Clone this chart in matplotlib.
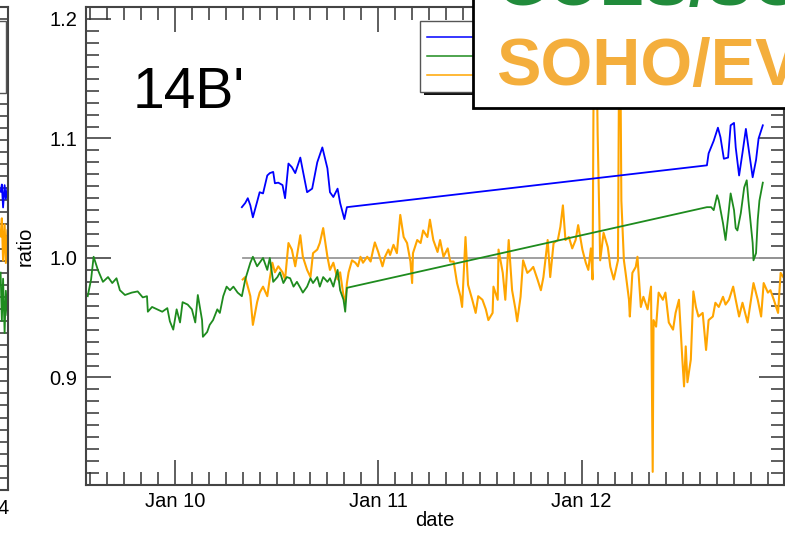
import numpy as np
import matplotlib.pyplot as plt
import matplotlib.dates as mdates
from matplotlib.patches import Rectangle
from matplotlib.lines import Line2D
from matplotlib.ticker import MultipleLocator, FormatStrFormatter

plt.rcParams['font.family'] = ['Liberation Sans', 'DejaVu Sans']

# --- data: hours since Jan 10 00:00 and flux ratios ---
goes_hours = [-10.3, -9.9, -9.6, -9.1, -8.5, -7.9, -7.4, -6.9, -6.5, -5.9,
              -5.1, -4.4, -3.8, -3.3, -3.2, -2.7, -2.1, -1.5, -0.9, -0.6,
              -0.2, 0.2, 0.6, 0.9, 1.5, 2.0, 2.4, 2.7, 3.2, 3.3,
              3.8, 4.1, 4.5, 5.0, 5.3, 5.7, 6.1, 6.5, 6.9, 7.4,
              7.9, 8.3, 8.9, 9.2, 9.7, 10.0, 10.4, 10.9, 11.2, 11.6,
              12.1, 12.4, 12.8, 13.2, 13.6, 14.0, 14.4, 14.8, 15.1, 15.6,
              16.0, 16.3, 16.8, 17.1, 17.5, 18.0, 18.3, 18.7, 19.2, 19.5,
              19.9, 20.1, 20.3,
              62.8, 63.3, 63.6, 64.0, 64.2, 64.7, 65.0, 65.3, 65.6, 66.0,
              66.2, 66.4, 66.8, 67.2, 67.5, 67.7, 68.2, 68.3, 68.6, 68.8,
              69.0, 69.4]
goes_ratio = [0.968, 0.982, 1.001, 0.990, 0.980, 0.984, 0.979, 0.983, 0.973, 0.969,
              0.971, 0.972, 0.967, 0.968, 0.955, 0.959, 0.957, 0.955, 0.958, 0.947,
              0.940, 0.957, 0.946, 0.963, 0.961, 0.957, 0.946, 0.969, 0.948, 0.934,
              0.938, 0.944, 0.948, 0.957, 0.954, 0.968, 0.976, 0.973, 0.976, 0.971,
              0.968, 0.982, 0.996, 1.001, 0.993, 0.996, 1.000, 0.990, 1.000, 0.980,
              0.984, 0.988, 0.979, 0.984, 0.983, 0.976, 0.980, 0.975, 0.971, 0.976,
              0.983, 0.979, 0.984, 0.976, 0.984, 0.980, 0.983, 0.976, 0.990, 0.973,
              0.965, 0.955, 0.975,
              1.0425, 1.0425, 1.040, 1.0525, 1.048, 1.029, 1.015, 1.034, 1.054, 1.040,
              1.025, 1.023, 1.0375, 1.059, 1.065, 1.048, 1.0125, 0.998, 1.004, 1.032,
              1.048, 1.063]

sdo_hours = [7.9, 8.3, 8.6, 8.9, 9.2, 9.7, 10.0, 10.4, 10.9, 11.2,
             11.6, 11.8, 12.2, 12.7, 13.0, 13.4, 13.8, 14.2, 14.8, 15.1,
             15.6, 16.2, 16.8, 17.4, 18.0, 18.3, 18.7, 19.2, 19.5, 20.0,
             20.3,
             62.8, 63.0, 63.6, 64.1, 64.4, 64.8, 65.3, 65.6, 66.0, 66.2,
             66.6, 67.0, 67.4, 67.7, 68.2, 68.6, 68.9, 69.4]
sdo_ratio = [1.0425, 1.046, 1.050, 1.044, 1.034, 1.047, 1.055, 1.054, 1.069, 1.071,
             1.072, 1.0625, 1.063, 1.061, 1.050, 1.079, 1.076, 1.071, 1.084, 1.073,
             1.055, 1.058, 1.080, 1.0925, 1.075, 1.055, 1.051, 1.058, 1.046, 1.0325,
             1.0425,
             1.0775, 1.0875, 1.098, 1.109, 1.101, 1.083, 1.084, 1.111, 1.113, 1.0925,
             1.069, 1.088, 1.108, 1.0925, 1.0675, 1.082, 1.100, 1.111]

soho_hours = [8.0, 8.3, 8.9, 9.2, 9.7, 10.0, 10.4, 10.9, 11.2, 11.5,
              11.8, 12.2, 12.7, 13.0, 13.4, 13.8, 14.2, 14.8, 15.1, 15.6,
              16.0, 16.3, 16.8, 17.1, 17.5, 18.0, 18.3, 18.7, 19.2, 19.5,
              19.9, 20.1, 20.3, 20.5, 20.9, 21.3, 21.6, 21.9, 22.2, 22.7,
              23.1, 23.4, 23.6, 24.0, 24.5, 24.8, 25.2, 25.4, 25.8, 26.2,
              26.6, 27.0, 27.4, 27.8, 28.0, 28.1, 28.6, 29.0, 29.3, 29.8,
              30.1, 30.5, 31.0, 31.3, 31.7, 32.2, 32.5, 32.9, 33.3, 33.7,
              33.9, 34.3, 34.6, 35.1, 35.5, 35.8, 36.3, 36.7, 37.0, 37.5,
              37.6, 38.1, 38.2, 38.7, 39.0, 39.4, 39.8, 40.2, 40.4, 40.8,
              41.1, 41.6, 42.0, 42.3, 42.8, 43.2, 43.5, 44.0, 44.3, 44.7,
              45.2, 45.5, 45.8, 46.1, 46.5, 46.9, 47.3, 47.6, 48.1, 48.5,
              48.8, 49.1, 49.3, 49.5, 49.8, 49.9, 50.2, 50.6, 51.1, 51.4,
              51.8, 52.3, 52.5, 52.6, 52.7, 53.0, 53.2, 53.6, 53.7, 54.0,
              54.4, 54.6, 55.0, 55.3, 55.8, 56.2, 56.4, 56.5, 56.8, 57.1,
              57.6, 57.9, 58.3, 58.8, 59.1, 59.5, 59.9, 60.1, 60.3, 60.5,
              60.9, 61.2, 61.5, 61.8, 62.3, 62.7, 63.0, 63.5, 63.8, 64.2,
              64.7, 65.0, 65.4, 65.9, 66.2, 66.6, 67.0, 67.6, 68.0, 68.3,
              68.8, 69.2, 69.5, 70.0, 70.3, 70.7, 71.2, 71.5, 72.0]
soho_ratio = [0.982, 0.984, 0.968, 0.944, 0.963, 0.971, 0.976, 0.968, 0.983, 0.996,
              0.988, 0.993, 0.988, 0.982, 1.0125, 1.007, 0.993, 1.019, 1.001, 0.990,
              0.984, 1.004, 1.007, 1.0125, 1.025, 1.001, 0.990, 0.996, 0.982, 0.988,
              0.968, 0.963, 0.979, 0.988, 0.998, 0.996, 0.993, 1.001, 0.996, 1.001,
              0.997, 1.007, 1.013, 1.005, 0.993, 1.001, 1.007, 1.0025, 1.011, 1.004,
              1.036, 1.0175, 1.0125, 0.997, 0.979, 1.004, 1.015, 1.0125, 1.023, 1.0175,
              1.032, 1.015, 1.005, 1.015, 1.001, 1.008, 0.997, 0.997, 0.979, 0.968,
              0.959, 1.0175, 0.9775, 0.965, 0.954, 0.968, 0.965, 0.957, 0.948, 0.954,
              0.976, 0.965, 1.007, 0.9875, 0.965, 1.015, 0.973, 0.957, 0.947, 0.9675,
              0.998, 0.9875, 0.990, 0.9925, 0.982, 0.973, 0.984, 1.015, 0.984, 1.0125,
              1.015, 1.026, 1.044, 1.015, 1.0175, 1.008, 1.015, 1.0275, 1.007, 0.996,
              0.990, 1.008, 0.982, 1.25, 1.16, 1.104, 0.998, 1.021, 1.009, 0.9925,
              0.982, 0.998, 1.25, 1.15, 1.048, 0.998, 0.9875, 0.965, 0.951, 0.9875,
              0.9925, 1.001, 0.959, 0.9675, 0.957, 0.976, 0.821, 0.948, 0.9425, 0.971,
              0.965, 0.971, 0.946, 0.940, 0.954, 0.965, 0.915, 0.8925, 0.926, 0.896,
              0.915, 0.972, 0.959, 0.951, 0.954, 0.923, 0.948, 0.951, 0.9625, 0.959,
              0.9675, 0.961, 0.965, 0.976, 0.965, 0.951, 0.9625, 0.946, 0.965, 0.979,
              0.965, 0.951, 0.979, 0.971, 0.973, 0.965, 0.954, 0.9875, 0.982]

# neighbouring panel (only its right edge is visible)
prev_x = [97.6, 98.0, 98.4, 98.9, 99.3, 99.8]
prev_blue = [1.057, 1.063, 1.044, 1.0625, 1.051, 1.060]
prev_orange = [1.020, 1.035, 1.000, 1.030, 0.998, 1.025]
prev_green = [0.990, 0.950, 0.985, 0.940, 0.975, 0.955]

C_BLUE = '#0000FF'
C_GREEN = '#1E8B1E'
C_ORANGE = '#FFA500'
C_AXIS = '#444444'

W, H = 785, 539
fig = plt.figure(figsize=(W / 100, H / 100), dpi=100, facecolor='white')


def fx(px):
    return px / W


def fy(py):
    return 1 - py / H


T0 = np.datetime64('2005-01-10T00:00')


def to_time(hours):
    mins = np.round(np.asarray(hours, dtype=float) * 60).astype(int)
    return T0 + mins.astype('timedelta64[m]')


def style_axes(a):
    for s in a.spines.values():
        s.set_color(C_AXIS)
        s.set_linewidth(1.5)
    a.tick_params(which='both', direction='in', top=True, right=True,
                  color='#333333', width=1.1)
    a.tick_params(which='major', length=18, labelsize=14.5, pad=6)
    a.tick_params(which='minor', length=9.4)


# --- left neighbour panel ---
axp = fig.add_axes([fx(-300), fy(490), fx(308), fy(7) - fy(490)])
axp.plot(prev_x, prev_orange, color=C_ORANGE, lw=1.5)
axp.plot(prev_x, prev_green, color=C_GREEN, lw=1.3)
axp.plot(prev_x, prev_blue, color=C_BLUE, lw=1.3)
axp.set_xlim(0, 100)
axp.set_ylim(0.81, 1.21)
axp.yaxis.set_major_locator(MultipleLocator(0.1))
axp.yaxis.set_minor_locator(MultipleLocator(0.01))
style_axes(axp)
axp.tick_params(labelleft=False, labelbottom=False)
fig.text(fx(9), fy(508), '4', ha='right', va='center', fontsize=14.5)
fig.patches.append(Rectangle((fx(-60), fy(93)), fx(66), fy(21) - fy(93),
                             transform=fig.transFigure, facecolor='white',
                             edgecolor='#555555', lw=1.0, zorder=2))

# --- main panel ---
t_end = 71.9
ax = fig.add_axes([fx(86), fy(485), fx(784) - fx(86), fy(7) - fy(485)])
soho_t = to_time(soho_hours)
ax.plot([soho_t[0], to_time(t_end)], [1.0, 1.0], color='#999999', lw=1.3)
ax.plot(soho_t, soho_ratio, color=C_ORANGE, lw=1.5)
ax.plot(to_time(goes_hours), goes_ratio, color=C_GREEN, lw=1.3)
ax.plot(to_time(sdo_hours), sdo_ratio, color=C_BLUE, lw=1.3)

ax.set_xlim(to_time(-10.5), to_time(t_end))
ax.set_ylim(0.81, 1.21)
ax.xaxis.set_major_locator(mdates.DayLocator())
ax.xaxis.set_minor_locator(mdates.HourLocator(byhour=range(0, 24, 2)))
ax.xaxis.set_major_formatter(mdates.DateFormatter('%b %d'))
ax.yaxis.set_major_locator(MultipleLocator(0.1))
ax.yaxis.set_minor_locator(MultipleLocator(0.01))
ax.yaxis.set_major_formatter(FormatStrFormatter('%.1f'))
style_axes(ax)
ax.tick_params(axis='x', which='major', pad=5)

ax.set_xlabel('date', fontsize=14.5)
ax.xaxis.set_label_coords(0.5, (485 - 520) / 478)
ax.xaxis.label.set_va('center')
ax.set_ylabel('ratio', fontsize=14.5)
ax.yaxis.set_label_coords((25 - 86) / 698, 0.5)
ax.yaxis.label.set_va('center')

ax.text(fx(133), fy(108), "14B'", transform=fig.transFigure, fontsize=41,
        ha='left', va='baseline', color='black')

# legend panel (labels sit under the instrument box)
fig.patches.append(Rectangle((fx(424), fy(95)), fx(60), fy(23) - fy(95),
                             transform=fig.transFigure, facecolor='#111111',
                             edgecolor='none', zorder=2))
fig.patches.append(Rectangle((fx(420), fy(92)), fx(60), fy(21) - fy(92),
                             transform=fig.transFigure, facecolor='white',
                             edgecolor='#555555', lw=1.0, zorder=2))
for yy, cc in [(37, C_BLUE), (56, C_GREEN), (75, C_ORANGE)]:
    fig.lines.append(Line2D([fx(427), fx(475)], [fy(yy), fy(yy)],
                            transform=fig.transFigure, color=cc, lw=1.1,
                            zorder=2.5))

# instrument box on top
fig.patches.append(Rectangle((fx(473), fy(108)), fx(340), fy(-30) - fy(108),
                             transform=fig.transFigure, facecolor='white',
                             edgecolor='black', lw=2.0, zorder=3))
fig.text(fx(496), fy(5), 'GOES/SOHO', fontsize=48, fontweight='bold',
         color='#218B3B', ha='left', va='baseline', zorder=4)
fig.text(fx(496), fy(85), 'SOHO/EV', fontsize=48, fontweight='bold',
         color='#F4AE3C', ha='left', va='baseline', zorder=4)

fig.savefig('out.png', dpi=100, facecolor='white')
